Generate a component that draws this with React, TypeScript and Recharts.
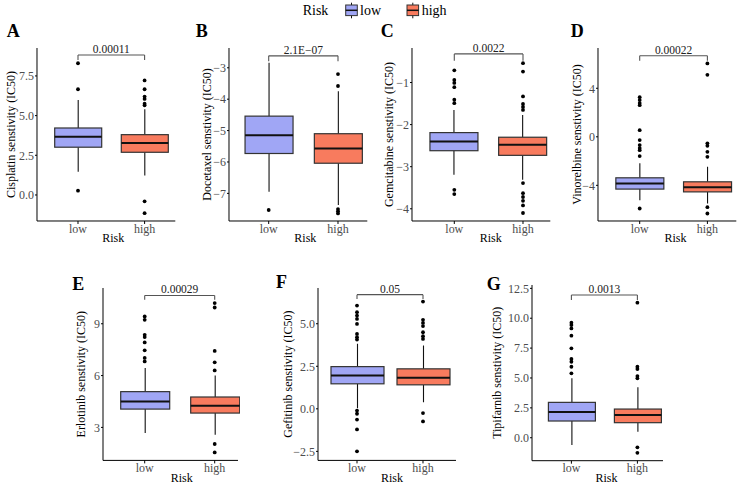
import React from 'react';
import { ComposedChart, Bar, Scatter, XAxis, YAxis, ReferenceLine } from 'recharts';

// box stats per group: [lower whisker, Q1, median, Q3, upper whisker]
const groups = ['low', 'high'];

const cisplatinLow = [1.47, 3.01, 3.67, 4.22, 5.99];
const cisplatinHigh = [1.22, 2.69, 3.28, 3.8, 5.4];
const cisplatinOutLow = [8.3, 6.66, 0.27];
const cisplatinOutHigh = [7.22, 6.66, 6.2, 6.05, 5.75, 5.65, -0.4, -1.15];

const docetaxelLow = [-6.95, -5.73, -5.15, -4.54, -2.84];
const docetaxelHigh = [-7.37, -6.04, -5.57, -5.1, -3.75];
const docetaxelOutLow = [-7.53];
const docetaxelOutHigh = [-3.2, -3.58, -7.5, -7.57, -7.64];

const gemcitabineLow = [-3.19, -2.62, -2.4, -2.19, -1.65];
const gemcitabineHigh = [-3.31, -2.73, -2.48, -2.3, -1.77];
const gemcitabineOutLow = [-0.71, -0.94, -1.01, -1.11, -1.41, -1.49, -3.55, -3.65];
const gemcitabineOutHigh = [-0.54, -0.74, -1.33, -1.51, -1.58, -1.65, -3.39, -3.63, -3.72, -3.81, -3.92, -4.1];

const vinorelbineLow = [-5.22, -4.31, -3.84, -3.38, -2.19];
const vinorelbineHigh = [-5.49, -4.54, -4.15, -3.71, -2.47];
const vinorelbineOutLow = [3.27, 3.03, 2.78, 2.61, 0.55, -0.27, -0.68, -0.93, -1.1, -1.59, -5.91];
const vinorelbineOutHigh = [6.05, 5.11, -0.54, -0.74, -1.24, -1.65, -5.8, -6.32];

const erlotinibLow = [2.68, 4.06, 4.5, 5.07, 6.44];
const erlotinibHigh = [2.58, 3.83, 4.26, 4.76, 6.0];
const erlotinibOutLow = [9.42, 9.23, 8.36, 8.23, 7.92, 7.46, 7.02, 6.82];
const erlotinibOutHigh = [10.2, 9.94, 7.43, 6.77, 6.3, 2.04, 1.55];

const gefitinibLow = [0.04, 1.47, 1.96, 2.48, 3.82];
const gefitinibHigh = [0.39, 1.41, 1.82, 2.35, 3.72];
const gefitinibOutLow = [6.07, 5.68, 5.48, 5.28, 4.99, 4.4, 4.21, 4.07, -0.1, -0.29, -0.63, -1.21, -2.5];
const gefitinibOutHigh = [6.3, 5.23, 5.05, 4.86, 4.5, 4.27, 4.11, -0.25, -0.74];

const tipifarnibLow = [-0.61, 1.4, 2.15, 2.96, 4.97];
const tipifarnibHigh = [0.5, 1.26, 1.9, 2.4, 4.22];
const tipifarnibOutLow = [9.62, 9.43, 9.15, 8.54, 7.48, 6.59, 6.36, 5.94, 5.39];
const tipifarnibOutHigh = [11.3, 5.94, 5.75, 5.16, 4.97, -0.8, -1.26];

const panels = [
  { tag: 'A', title: 'Cisplatin senstivity (IC50)', low: cisplatinLow, high: cisplatinHigh, outLow: cisplatinOutLow, outHigh: cisplatinOutHigh, p: '0.00011', bracket: [8.82, 8.5], domain: [-1.64, 9.26], ticks: [0, 2.5, 5, 7.5], digits: 1 },
  { tag: 'B', title: 'Docetaxel senstivity (IC50)', low: docetaxelLow, high: docetaxelHigh, outLow: docetaxelOutLow, outHigh: docetaxelOutHigh, p: '2.1E\u221207', bracket: [-2.62, -2.79], domain: [-7.88, -2.37], ticks: [-7, -6, -5, -4, -3], digits: 0 },
  { tag: 'C', title: 'Gemcitabine senstivity (IC50)', low: gemcitabineLow, high: gemcitabineHigh, outLow: gemcitabineOutLow, outHigh: gemcitabineOutHigh, p: '0.0022', bracket: [-0.32, -0.48], domain: [-4.29, -0.18], ticks: [-4, -3, -2, -1], digits: 0 },
  { tag: 'D', title: 'Vinorelbine senstivity (IC50)', low: vinorelbineLow, high: vinorelbineHigh, outLow: vinorelbineOutLow, outHigh: vinorelbineOutHigh, p: '0.00022', bracket: [6.68, 6.27], domain: [-6.94, 7.32], ticks: [-4, 0, 4], digits: 0 },
  { tag: 'E', title: 'Erlotinib senstivity (IC50)', low: erlotinibLow, high: erlotinibHigh, outLow: erlotinibOutLow, outHigh: erlotinibOutHigh, p: '0.00029', bracket: [10.64, 10.39], domain: [1.09, 11.07], ticks: [3, 6, 9], digits: 0 },
  { tag: 'F', title: 'Gefitinib senstivity (IC50)', low: gefitinibLow, high: gefitinibHigh, outLow: gefitinibOutLow, outHigh: gefitinibOutHigh, p: '0.05', bracket: [6.71, 6.46], domain: [-3.03, 7.1], ticks: [-2.5, 0, 2.5, 5], digits: 1 },
  { tag: 'G', title: 'Tipifarnib senstivity (IC50)', low: tipifarnibLow, high: tipifarnibHigh, outLow: tipifarnibOutLow, outHigh: tipifarnibOutHigh, p: '0.0013', bracket: [11.94, 11.52], domain: [-1.92, 12.78], ticks: [0, 2.5, 5, 7.5, 10, 12.5], digits: 1 },
];

// plot-area placement of each panel on the page
const layout = [
  { x: 36.7, y: 48, w: 138.3, h: 173, lowX: 77.7, highX: 144.3, gap: 25.9, boxW: 47, tagX: 6.7, tagY: 36.7 },
  { x: 229.3, y: 48, w: 138.3, h: 173, lowX: 269, highX: 338.3, gap: 22.6, boxW: 48, tagX: 195.7, tagY: 36.7 },
  { x: 411.7, y: 48, w: 138.3, h: 173, lowX: 454, highX: 522.7, gap: 23.4, boxW: 48, tagX: 380.7, tagY: 36.7 },
  { x: 598.3, y: 48, w: 138.3, h: 173, lowX: 640, highX: 707.7, gap: 21.6, boxW: 48, tagX: 570.7, tagY: 36.7 },
  { x: 103.3, y: 288.3, w: 135, h: 172.4, lowX: 145, highX: 215, gap: 22.5, boxW: 49, tagX: 72.3, tagY: 290 },
  { x: 317.7, y: 288.3, w: 138, h: 172.4, lowX: 356.7, highX: 422.7, gap: 30, boxW: 53, tagX: 276, tagY: 288.3 },
  { x: 532.3, y: 285, w: 131, h: 175.7, lowX: 571.7, highX: 637.7, gap: 35.6, boxW: 47, tagX: 486.7, tagY: 290 },
];

const colors: Record<string, string> = { low: '#A0A6F5', high: '#F87B5E' };
const FONT = 'Liberation Serif, Times New Roman, serif';
const Y_AXIS_W = 46;

const fmt = (digits: number) => (v: number) => (v < 0 ? '\u2212' : '') + Math.abs(v).toFixed(digits);

const boxRange = (d: any) => (d && d.stats ? [d.stats[0], d.stats[4]] : null);

const BoxShape = (props: any) => {
  const { x, y, width, height, payload } = props;
  if (!payload || !payload.stats) return null;
  const [lo, q1, med, q3, hi] = payload.stats;
  const py = (v: number) => y + ((hi - v) / (hi - lo)) * height;
  const cx = x + width / 2;
  return (
    <g>
      <line x1={cx} x2={cx} y1={py(hi)} y2={py(q3)} stroke="#111" strokeWidth={1.1} />
      <line x1={cx} x2={cx} y1={py(q1)} y2={py(lo)} stroke="#111" strokeWidth={1.1} />
      <rect x={x} y={py(q3)} width={width} height={py(q1) - py(q3)} fill={colors[payload.group]} stroke="#333" strokeWidth={1.2} />
      <line x1={x} x2={x + width} y1={py(med)} y2={py(med)} stroke="#111" strokeWidth={2} />
    </g>
  );
};

const Dot = (props: any) => (props.cx == null ? null : <circle cx={props.cx} cy={props.cy} r={1.9} fill="#000" />);

const Panel = ({ cfg, lay }: { cfg: (typeof panels)[number]; lay: (typeof layout)[number] }) => {
  const data = groups.map((g, i) => ({ group: g, stats: i === 0 ? cfg.low : cfg.high }));
  const outliers = [
    ...cfg.outLow.map((v) => ({ group: 'low', value: v })),
    ...cfg.outHigh.map((v) => ({ group: 'high', value: v })),
  ];
  const L = lay.lowX - lay.x;
  const H = lay.highX - lay.x;
  const inner = 2 * (H - L);
  const padL = L - inner / 4;
  const padR = lay.w - padL - inner;
  const mid = (L + H) / 2 + 2;

  const yTitle = (p: any) => {
    const vb = p && p.viewBox;
    if (!vb) return null;
    const tx = vb.x + vb.width - lay.gap;
    const ty = vb.y + vb.height / 2;
    return (
      <text x={tx} y={ty} dy="0.35em" transform={`rotate(-90 ${tx} ${ty})`} textAnchor="middle" fontSize={12} fontFamily={FONT} fill="#000">
        {cfg.title}
      </text>
    );
  };
  const xTitle = (p: any) => {
    const vb = p && p.viewBox;
    if (!vb) return null;
    return (
      <text x={vb.x + mid} y={vb.y + 21.5} textAnchor="middle" fontSize={12} fontFamily={FONT} fill="#000">
        Risk
      </text>
    );
  };

  const [line, tip] = cfg.bracket;
  const tickStyle = { fontSize: 12, fill: '#4d4d4d', fontFamily: FONT };
  return (
    <div style={{ position: 'absolute', left: lay.x - Y_AXIS_W, top: lay.y - 10 }}>
      <ComposedChart width={Y_AXIS_W + lay.w + 2} height={lay.h + 40} data={data} margin={{ top: 10, right: 2, bottom: 0, left: 0 }}>
        <XAxis
          dataKey="group"
          type="category"
          allowDuplicatedCategory={false}
          padding={{ left: padL, right: padR }}
          height={30}
          tickSize={3}
          tickMargin={0}
          tick={tickStyle}
          axisLine={{ stroke: '#000' }}
          tickLine={{ stroke: '#000' }}
          label={xTitle}
        />
        <YAxis
          type="number"
          domain={cfg.domain}
          ticks={cfg.ticks}
          allowDataOverflow
          interval={0}
          width={Y_AXIS_W}
          tickSize={2}
          tickMargin={1}
          tickFormatter={fmt(cfg.digits)}
          tick={tickStyle}
          axisLine={{ stroke: '#000' }}
          tickLine={{ stroke: '#000' }}
          label={yTitle}
        />
        <Bar dataKey={boxRange} barSize={lay.boxW} shape={BoxShape} isAnimationActive={false} />
        <Scatter data={outliers} dataKey="value" shape={Dot} isAnimationActive={false} />
        <ReferenceLine
          segment={[{ x: 'low', y: line }, { x: 'high', y: line }]}
          stroke="#555"
          strokeWidth={1.1}
          label={{ value: cfg.p, position: 'top', offset: 2, fontSize: 11.5, fill: '#222', fontFamily: FONT }}
        />
        <ReferenceLine segment={[{ x: 'low', y: line }, { x: 'low', y: tip }]} stroke="#555" strokeWidth={1.1} />
        <ReferenceLine segment={[{ x: 'high', y: line }, { x: 'high', y: tip }]} stroke="#555" strokeWidth={1.1} />
      </ComposedChart>
    </div>
  );
};

const LegendKey = ({ x, color }: { x: number; color: string }) => (
  <g>
    <line x1={x + 5.8} x2={x + 5.8} y1={2.7} y2={18.3} stroke="#111" strokeWidth={1} />
    <rect x={x} y={5} width={11.6} height={10.6} fill={color} stroke="#333" strokeWidth={1} />
    <line x1={x} x2={x + 11.6} y1={10.3} y2={10.3} stroke="#111" strokeWidth={1.5} />
  </g>
);

const App = () => {
  return (
    <div style={{ position: 'absolute', left: 0, top: 0, width: 743, height: 489, background: '#fff', overflow: 'hidden', fontFamily: FONT }}>
      {panels.map((cfg, i) => (
        <Panel key={cfg.tag} cfg={cfg} lay={layout[i]} />
      ))}
      <svg width={743} height={489} style={{ position: 'absolute', left: 0, top: 0, pointerEvents: 'none' }} fontFamily={FONT}>
        {panels.map((cfg, i) => (
          <text key={cfg.tag} x={layout[i].tagX} y={layout[i].tagY} fontSize={18} fontWeight="bold" fill="#000">
            {cfg.tag}
          </text>
        ))}
        <text x={302.7} y={15} fontSize={14} fill="#000">Risk</text>
        <LegendKey x={345.7} color={colors.low} />
        <text x={360} y={15} fontSize={14} fill="#000">low</text>
        <LegendKey x={407} color={colors.high} />
        <text x={421.7} y={15} fontSize={14} fill="#000">high</text>
      </svg>
    </div>
  );
};

export default App;
